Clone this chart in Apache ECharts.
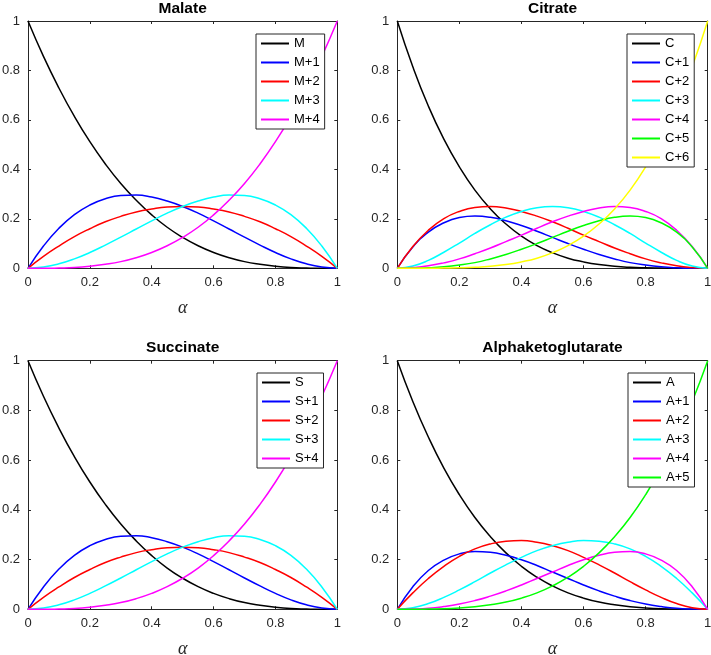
<!DOCTYPE html>
<html><head><meta charset="utf-8">
<script src="https://cdn.jsdelivr.net/npm/echarts@6/dist/echarts.min.js"></script>
<style>html,body{margin:0;padding:0;background:#fff}#c{width:711px;height:655px}</style>
</head><body><div id="c"></div>
<script>
// shared x values (alpha)
const alpha = [0,0.05,0.1,0.15,0.2,0.25,0.3,0.35,0.4,0.45,0.5,0.55,0.6,0.65,0.7,0.75,0.8,0.85,0.9,0.95,1];
const tickLabels = ['0','0.2','0.4','0.6','0.8','1'];

// Malate
const M0 = [1,0.857,0.729,0.614,0.512,0.422,0.343,0.275,0.216,0.166,0.125,0.091,0.064,0.043,0.027,0.016,0.008,0.003,0.001,0.000,0];
const M1 = [0,0.090,0.162,0.217,0.256,0.281,0.294,0.296,0.288,0.272,0.250,0.223,0.192,0.159,0.126,0.094,0.064,0.038,0.018,0.005,0];
const M2 = [0,0.048,0.090,0.128,0.160,0.188,0.210,0.228,0.240,0.248,0.250,0.248,0.240,0.228,0.210,0.188,0.160,0.128,0.090,0.048,0];
const M3 = [0,0.005,0.018,0.038,0.064,0.094,0.126,0.159,0.192,0.223,0.250,0.272,0.288,0.296,0.294,0.281,0.256,0.217,0.162,0.090,0];
const M4 = [0,0.000,0.001,0.003,0.008,0.016,0.027,0.043,0.064,0.091,0.125,0.166,0.216,0.275,0.343,0.422,0.512,0.614,0.729,0.857,1];

// Citrate
const C0 = [1,0.815,0.656,0.522,0.410,0.316,0.240,0.179,0.130,0.092,0.063,0.041,0.026,0.015,0.008,0.004,0.002,0.001,0.000,0.000,0];
const C1 = [0,0.086,0.146,0.184,0.205,0.211,0.206,0.192,0.173,0.150,0.125,0.100,0.077,0.056,0.038,0.023,0.013,0.006,0.002,0.000,0];
const C2 = [0,0.088,0.154,0.201,0.230,0.246,0.250,0.244,0.230,0.211,0.188,0.162,0.134,0.108,0.082,0.059,0.038,0.022,0.010,0.003,0];
const C3 = [0,0.009,0.032,0.065,0.102,0.141,0.176,0.207,0.230,0.245,0.250,0.245,0.230,0.207,0.176,0.141,0.102,0.065,0.032,0.009,0];
const C4 = [0,0.003,0.010,0.022,0.038,0.059,0.082,0.108,0.134,0.162,0.188,0.211,0.230,0.244,0.250,0.246,0.230,0.201,0.154,0.088,0];
const C5 = [0,0.000,0.002,0.006,0.013,0.023,0.038,0.056,0.077,0.100,0.125,0.150,0.173,0.192,0.206,0.211,0.205,0.184,0.146,0.086,0];
const C6 = [0,0.000,0.000,0.001,0.002,0.004,0.008,0.015,0.026,0.041,0.063,0.092,0.130,0.179,0.240,0.316,0.410,0.522,0.656,0.815,1];

// Succinate
const S0 = [1,0.857,0.729,0.614,0.512,0.422,0.343,0.275,0.216,0.166,0.125,0.091,0.064,0.043,0.027,0.016,0.008,0.003,0.001,0.000,0];
const S1 = [0,0.090,0.162,0.217,0.256,0.281,0.294,0.296,0.288,0.272,0.250,0.223,0.192,0.159,0.126,0.094,0.064,0.038,0.018,0.005,0];
const S2 = [0,0.048,0.090,0.128,0.160,0.188,0.210,0.228,0.240,0.248,0.250,0.248,0.240,0.228,0.210,0.188,0.160,0.128,0.090,0.048,0];
const S3 = [0,0.005,0.018,0.038,0.064,0.094,0.126,0.159,0.192,0.223,0.250,0.272,0.288,0.296,0.294,0.281,0.256,0.217,0.162,0.090,0];
const S4 = [0,0.000,0.001,0.003,0.008,0.016,0.027,0.043,0.064,0.091,0.125,0.166,0.216,0.275,0.343,0.422,0.512,0.614,0.729,0.857,1];

// Alphaketoglutarate
const A0 = [1,0.836,0.693,0.568,0.461,0.369,0.292,0.227,0.173,0.129,0.094,0.066,0.045,0.029,0.018,0.010,0.005,0.002,0.001,0.000,0];
const A1 = [0,0.091,0.156,0.198,0.223,0.232,0.229,0.217,0.199,0.176,0.150,0.124,0.098,0.074,0.053,0.035,0.021,0.011,0.004,0.001,0];
const A2 = [0,0.066,0.124,0.173,0.213,0.243,0.263,0.274,0.277,0.270,0.256,0.236,0.209,0.179,0.146,0.111,0.078,0.048,0.023,0.006,0];
const A3 = [0,0.006,0.023,0.048,0.078,0.111,0.146,0.179,0.209,0.236,0.256,0.270,0.277,0.274,0.263,0.243,0.213,0.173,0.124,0.066,0];
const A4 = [0,0.001,0.004,0.011,0.021,0.035,0.053,0.074,0.098,0.124,0.150,0.176,0.199,0.217,0.229,0.232,0.223,0.198,0.156,0.091,0];
const A5 = [0,0.000,0.001,0.002,0.005,0.010,0.018,0.029,0.045,0.066,0.094,0.129,0.173,0.227,0.292,0.369,0.461,0.568,0.693,0.836,1];

const K='#000000',B='#0000ff',R='#ff0000',Cy='#00ffff',Mg='#ff00ff',G='#00ff00',Y='#ffff00';
const panels = [
  {title:'Malate', names:['M','M+1','M+2','M+3','M+4'], data:[M0,M1,M2,M3,M4], colors:[K,B,R,Cy,Mg],
   grid:{left:28,top:21,width:309.3,height:247.3}, legendPos:{left:256,top:34}, titleTop:0.5},
  {title:'Citrate', names:['C','C+1','C+2','C+3','C+4','C+5','C+6'], data:[C0,C1,C2,C3,C4,C5,C6], colors:[K,B,R,Cy,Mg,G,Y],
   grid:{left:397.3,top:21,width:310.4,height:247.3}, legendPos:{left:627,top:34}, titleTop:0.5},
  {title:'Succinate', names:['S','S+1','S+2','S+3','S+4'], data:[S0,S1,S2,S3,S4], colors:[K,B,R,Cy,Mg],
   grid:{left:28,top:360.7,width:309.3,height:248.6}, legendPos:{left:257,top:373}, titleTop:339.5},
  {title:'Alphaketoglutarate', names:['A','A+1','A+2','A+3','A+4','A+5'], data:[A0,A1,A2,A3,A4,A5], colors:[K,B,R,Cy,Mg,G],
   grid:{left:397.3,top:360.7,width:310.4,height:248.6}, legendPos:{left:628,top:373}, titleTop:339.5}
];

const axisCol = '#262626';
const font = 'Liberation Sans, Arial, sans-serif';
const grids=[], xAxes=[], yAxes=[], titles=[], legends=[], series=[];
panels.forEach((p,i)=>{
  grids.push(Object.assign({containLabel:false, outerBoundsMode:'none', show:false}, p.grid));
  const common = {gridIndex:i, type:'value', min:0, max:1, interval:0.2,
    axisLine:{show:true, onZero:false, lineStyle:{color:axisCol,width:1}},
    axisTick:{show:true, inside:true, length:3, lineStyle:{color:axisCol}},
    splitLine:{show:false}};
  xAxes.push(Object.assign({}, common, {position:'bottom',
    axisLabel:{show:true, margin:8, fontSize:13, color:axisCol, fontFamily:font,
      formatter:(v)=>tickLabels[Math.round(v*5)]},
    name:'α', nameLocation:'middle', nameGap:31,
    nameTextStyle:{fontSize:18, fontStyle:'italic', fontFamily:'Liberation Serif, DejaVu Serif, serif', color:axisCol}}));
  xAxes.push(Object.assign({}, common, {position:'top', axisLabel:{show:false}}));
  yAxes.push(Object.assign({}, common, {position:'left',
    axisLabel:{show:true, margin:8, fontSize:13, color:axisCol, fontFamily:font,
      formatter:(v)=>tickLabels[Math.round(v*5)]}}));
  yAxes.push(Object.assign({}, common, {position:'right', axisLabel:{show:false}}));
  titles.push({text:p.title, left:p.grid.left+p.grid.width/2, top:p.titleTop, textAlign:'center', padding:0,
    textStyle:{fontSize:15.5, fontWeight:'bold', color:'#000', fontFamily:font}});
  legends.push({data:p.names, orient:'vertical', left:p.legendPos.left, top:p.legendPos.top,
    itemWidth:28, itemHeight:12, itemGap:6, padding:[3,5,3,4],
    itemStyle:{opacity:0},
    borderColor:axisCol, borderWidth:1, borderRadius:0, backgroundColor:'#fff',
    textStyle:{fontSize:13, color:'#000', fontFamily:font}, selectedMode:false});
  p.names.forEach((nm,k)=>{
    series.push({name:nm, type:'line', xAxisIndex:2*i, yAxisIndex:2*i, symbol:'none', showSymbol:false,
      smooth:true, animation:false, clip:true,
      lineStyle:{width:1.5, color:p.colors[k]}, itemStyle:{color:p.colors[k]},
      data: alpha.map((x,j)=>[x, p.data[k][j]])});
  });
});

const chart = echarts.init(document.getElementById('c'), null, {renderer:'canvas'});
chart.setOption({backgroundColor:'#fff', animation:false, title:titles, grid:grids, xAxis:xAxes, yAxis:yAxes, legend:legends, series:series, tooltip:{show:false}});
</script>
</body></html>
